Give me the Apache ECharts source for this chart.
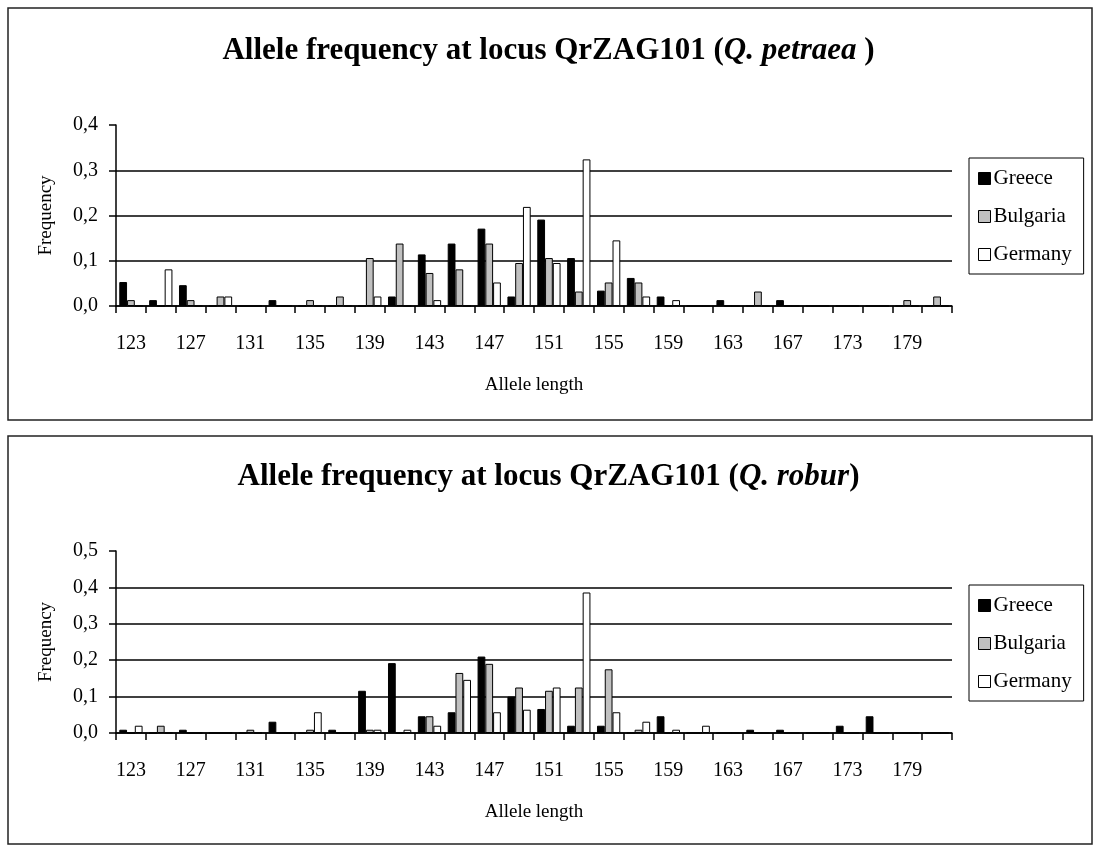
<!DOCTYPE html>
<html>
<head>
<meta charset="utf-8">
<script src="https://cdn.jsdelivr.net/npm/echarts@6/dist/echarts.min.js"></script>
<style>
  html,body{margin:0;padding:0;background:#fff;}
  #chart{width:1097px;height:848px;}
</style>
</head>
<body>
<div id="chart"></div>
<script>
// allele lengths (category axis)
const alleles = ['123','125','127','129','131','133','135','137','139','141','143','145','147','149','151','153','155','157','159','161','163','165','167','171','173','177','179','181'];
const countries = ['Greece','Bulgaria','Germany'];

// Q. petraea
const petraeaGreece   = [0.053,0.013,0.046,0,0,0.013,0,0,0,0.021,0.114,0.138,0.171,0.021,0.191,0.106,0.034,0.062,0.021,0,0.013,0,0.013,0,0,0,0,0];
const petraeaBulgaria = [0.013,0,0.013,0.021,0,0,0.013,0.021,0.106,0.138,0.073,0.081,0.138,0.095,0.106,0.032,0.052,0.052,0,0,0,0.032,0,0,0,0,0.013,0.021];
const petraeaGermany  = [0,0.081,0,0.021,0,0,0,0,0.021,0,0.013,0,0.052,0.219,0.095,0.324,0.145,0.021,0.013,0,0,0,0,0,0,0,0,0];

// Q. robur
const roburGreece   = [0.009,0,0.009,0,0,0.031,0,0.009,0.116,0.192,0.046,0.057,0.210,0.100,0.066,0.020,0.020,0,0.046,0,0,0.009,0.009,0,0.020,0.046,0,0];
const roburBulgaria = [0,0.020,0,0,0.009,0,0.009,0,0.009,0,0.046,0.165,0.190,0.125,0.116,0.125,0.175,0.009,0,0,0,0,0,0,0,0,0,0];
const roburGermany  = [0.020,0,0,0,0,0,0.057,0,0.009,0.009,0.020,0.146,0.057,0.064,0.125,0.386,0.057,0.031,0.009,0.020,0,0,0,0,0,0,0,0];

const barColors = ['#000000','#c0c0c0','#ffffff'];
const FONT = 'Liberation Serif, Times New Roman, serif';

const chart = echarts.init(document.getElementById('chart'));

const mkX = (gridIndex) => ({
    type:'category',
    gridIndex:gridIndex,
    data:alleles,
    boundaryGap:true,
    name:'Allele length',
    nameLocation:'middle',
    nameGap:70,
    nameTextStyle:{fontFamily:FONT,fontSize:19,color:'#000'},
    axisLine:{lineStyle:{color:'#000',width:1.5}},
    axisTick:{show:true,interval:0,length:7,lineStyle:{color:'#000',width:1.5}},
    axisLabel:{interval:1,margin:28,fontFamily:FONT,fontSize:20,color:'#000'},
    splitLine:{show:false}
});

const mkY = (gridIndex,max) => ({
    type:'value',
    gridIndex:gridIndex,
    min:0,
    max:max,
    interval:0.1,
    name:'Frequency',
    nameLocation:'middle',
    nameGap:60,
    nameRotate:90,
    nameTextStyle:{fontFamily:FONT,fontSize:19,color:'#000'},
    axisLine:{show:true,lineStyle:{color:'#000',width:1.5}},
    axisTick:{show:true,length:7,lineStyle:{color:'#000',width:1.5}},
    axisLabel:{margin:18,fontFamily:FONT,fontSize:20,color:'#000',
        formatter:(v)=>v.toFixed(1).replace('.',',')},
    splitLine:{show:true,showMaxLine:false,lineStyle:{color:'#000',width:1.5}}
});

const mkSeries = (list,idx) => list.map((data,i)=>({
    name:countries[i],
    type:'bar',
    xAxisIndex:idx,
    yAxisIndex:idx,
    data:data,
    barGap:'0%',
    barCategoryGap:'22%',
    itemStyle:{color:barColors[i],borderColor:'#000',borderWidth:1},
    emphasis:{disabled:true}
}));

const mkLegend = (top) => ({
    data:countries,
    orient:'vertical',
    left:969,
    top:top,
    padding:[10,12,9,9],
    itemGap:17,
    itemWidth:12,
    itemHeight:12,
    icon:'rect',
    itemStyle:{borderColor:'#000',borderWidth:1},
    backgroundColor:'#fff',
    borderColor:'#000',
    borderWidth:1,
    textStyle:{fontFamily:FONT,fontSize:21,color:'#000',padding:[0,0,0,-2]},
    selectedMode:false
});

const titleRich = {
    b:{fontFamily:FONT,fontSize:31,fontWeight:'bold',color:'#000'},
    bi:{fontFamily:FONT,fontSize:31,fontWeight:'bold',fontStyle:'italic',color:'#000'}
};

const option = {
    animation:false,
    backgroundColor:'#fff',
    title:[
        {text:'{b|Allele frequency at locus QrZAG101 (}{bi|Q. petraea}{b| )}',left:'center',top:35,padding:0,
         textStyle:{rich:titleRich}},
        {text:'{b|Allele frequency at locus QrZAG101 (}{bi|Q. robur}{b|)}',left:'center',top:461,padding:0,
         textStyle:{rich:titleRich}}
    ],
    legend:[mkLegend(158),mkLegend(585)],
    graphic:[
        {type:'rect',shape:{x:8,y:8,width:1084,height:412},style:{fill:'none',stroke:'#222',lineWidth:1.5},z:-1},
        {type:'rect',shape:{x:8,y:436,width:1084,height:408},style:{fill:'none',stroke:'#222',lineWidth:1.5},z:-1}
    ],
    grid:[
        {left:116,right:145,top:125,height:181},
        {left:116,right:145,top:551,height:182}
    ],
    xAxis:[mkX(0),mkX(1)],
    yAxis:[mkY(0,0.4),mkY(1,0.5)],
    series:[
        ...mkSeries([petraeaGreece,petraeaBulgaria,petraeaGermany],0),
        ...mkSeries([roburGreece,roburBulgaria,roburGermany],1)
    ]
};

chart.setOption(option);
</script>
</body>
</html>
